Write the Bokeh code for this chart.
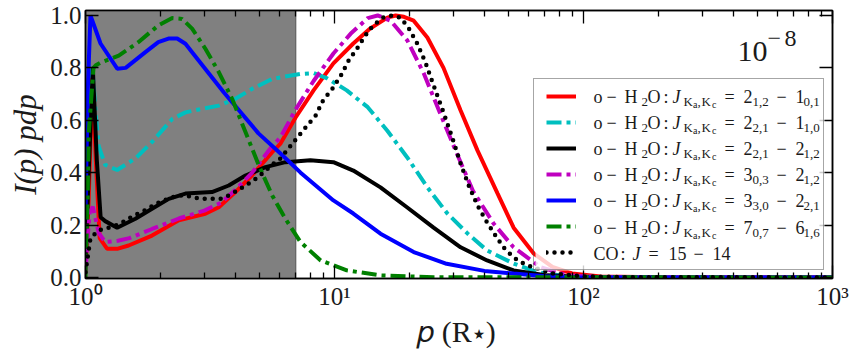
from bokeh.plotting import figure
from bokeh.models import (Range1d, LogAxis, LinearAxis, FixedTicker, BoxAnnotation,
                          Legend, LegendItem, LabelSet, ColumnDataSource, PrintfTickFormatter)
from bokeh.core.properties import value, field
from bokeh.embed import file_html
from bokeh.resources import INLINE

# ---------------- data ----------------
red_p = [1.0, 1.03, 1.065, 1.10, 1.14, 1.22, 1.35, 1.49, 1.85, 2.37, 3.03, 3.43, 4.0, 4.67,
         5.62, 6.07, 6.56, 6.97, 8.24, 9.9, 11.9, 13.9, 16.3, 17.6, 19.0, 20.8, 23.6, 27.4,
         32.1, 37.5, 45.2, 52.4, 63.0, 75.0, 90.0, 117.0, 200.0, 400.0, 1000.0]
red_i = [0.02, 0.30, 0.76, 0.45, 0.15, 0.11, 0.11, 0.122, 0.16, 0.218, 0.243, 0.268, 0.326, 0.39,
         0.478, 0.511, 0.567, 0.61, 0.714, 0.817, 0.893, 0.95, 0.992, 1.0, 0.995, 0.98, 0.916, 0.80,
         0.637, 0.485, 0.32, 0.19, 0.092, 0.04, 0.015, 0.004, 0.0005, 0.0, 0.0]

cyan_p = [1.0, 1.02, 1.04, 1.07, 1.10, 1.13, 1.20, 1.34, 1.59, 1.85, 2.23, 2.52, 2.94, 3.43,
          4.0, 4.67, 5.62, 7.3, 8.24, 9.35, 11.2, 13.6, 16.3, 19.6, 23.6, 28.4, 34.2, 41.0,
          52.4, 65.0, 85.0, 120.0, 1000.0]
cyan_i = [0.10, 0.50, 0.80, 0.78, 0.62, 0.50, 0.43, 0.41, 0.455, 0.517, 0.605, 0.63, 0.644, 0.656,
          0.682, 0.72, 0.758, 0.777, 0.78, 0.76, 0.714, 0.65, 0.56, 0.458, 0.344, 0.244, 0.168, 0.103,
          0.053, 0.02, 0.005, 0.001, 0.0]

black_p = [1.0, 1.03, 1.07, 1.11, 1.15, 1.20, 1.34, 1.587, 1.85, 2.16, 2.52, 3.22, 3.76, 4.39,
           5.28, 6.35, 8.0, 9.9, 11.9, 15.3, 19.6, 25.0, 32.1, 41.0, 52.4, 71.5, 100.0, 200.0, 1000.0]
black_i = [0.05, 0.40, 0.80, 0.45, 0.23, 0.215, 0.19, 0.224, 0.262, 0.30, 0.32, 0.326, 0.351, 0.389,
           0.421, 0.44, 0.447, 0.44, 0.408, 0.344, 0.267, 0.19, 0.115, 0.065, 0.027, 0.008, 0.002, 0.0, 0.0]

mag_p = [1.0, 1.02, 1.04, 1.07, 1.13, 1.20, 1.35, 1.5, 1.85, 2.37, 3.0, 3.5, 4.0, 4.67, 5.6,
         6.07, 6.97, 8.24, 9.9, 11.6, 13.6, 14.9, 16.8, 19.6, 22.8, 26.6, 31.0, 36.0, 43.6,
         52.4, 67.0, 86.0, 120.0, 1000.0]
mag_i = [0.02, 0.15, 0.25, 0.27, 0.17, 0.135, 0.14, 0.15, 0.185, 0.225, 0.255, 0.285, 0.335, 0.40, 0.50,
         0.535, 0.64, 0.75, 0.855, 0.93, 0.99, 1.0, 0.98, 0.905, 0.78, 0.625, 0.473, 0.33, 0.205,
         0.115, 0.04, 0.008, 0.001, 0.0]

blue_p = [1.0, 1.02, 1.047, 1.149, 1.341, 1.45, 1.74, 1.96, 2.154, 2.334, 2.52, 2.68, 3.59, 4.95,
          6.07, 7.31, 9.9, 11.9, 15.3, 20.8, 28.2, 40.0, 52.4, 70.0, 91.0, 200.0, 1000.0]
blue_i = [0.25, 0.70, 1.0, 0.893, 0.797, 0.80, 0.86, 0.898, 0.912, 0.912, 0.892, 0.86, 0.707, 0.55,
          0.473, 0.40, 0.294, 0.244, 0.167, 0.097, 0.052, 0.025, 0.015, 0.005, 0.001, 0.0, 0.0]

green_p = [1.0, 1.02, 1.03, 1.077, 1.10, 1.149, 1.36, 1.63, 1.96, 2.23, 2.44, 2.68, 3.03, 3.43,
           3.88, 4.39, 4.97, 5.62, 6.35, 7.3, 8.8, 11.2, 15.3, 25.0, 1000.0]
green_i = [0.0, 0.30, 0.55, 0.80, 0.81, 0.82, 0.847, 0.898, 0.962, 0.99, 0.987, 0.95, 0.873, 0.784,
           0.682, 0.555, 0.427, 0.313, 0.224, 0.135, 0.065, 0.027, 0.008, 0.001, 0.0]

co_p = [1.0, 1.047, 1.13, 1.24, 1.34, 1.45, 1.56, 1.69, 1.82, 2.0, 2.15, 2.34, 2.52, 2.7, 2.95,
        3.2, 3.48, 3.76, 4.07, 4.39, 4.73, 5.13, 5.62, 6.07, 6.53, 7.1, 7.66, 8.4, 9.0, 9.8,
        10.6, 11.4, 12.4, 13.3, 14.3, 15.7, 17.1, 18.4, 19.8, 21.5, 23.2, 25.0, 27.4, 29.7,
        32.1, 34.6, 37.5, 41.0, 44.3, 47.7, 52.4, 57.5, 63.0, 75.0, 100.0, 150.0, 1000.0]
co_i = [0.02, 0.15, 0.18, 0.19, 0.20, 0.217, 0.236, 0.25, 0.268, 0.29, 0.30, 0.313, 0.313, 0.306, 0.30,
        0.30, 0.30, 0.313, 0.332, 0.351, 0.37, 0.397, 0.43, 0.454, 0.492, 0.535, 0.573, 0.618, 0.676, 0.72,
        0.77, 0.828, 0.878, 0.924, 0.962, 0.992, 1.0, 0.992, 0.954, 0.893, 0.82, 0.733, 0.63, 0.534,
        0.435, 0.351, 0.275, 0.21, 0.16, 0.115, 0.076, 0.053, 0.038, 0.015, 0.004, 0.001, 0.0]

# legend transitions  J_{Ka,Kc}: upper - lower
h2o_upper = ["2", "2", "2", "3", "3", "7"]
h2o_upper_sub = ["1,2", "2,1", "2,1", "0,3", "3,0", "0,7"]
h2o_lower = ["1", "1", "2", "2", "2", "6"]
h2o_lower_sub = ["0,1", "1,0", "1,2", "1,2", "2,1", "1,6"]
co_upper, co_lower = "15", "14"

shade_range = [1.0, 7.0]
x_major = [1, 10, 100, 1000]
x_minor = [2, 3, 4, 5, 6, 7, 8, 9, 20, 30, 40, 50, 60, 70, 80, 90,
           200, 300, 400, 500, 600, 700, 800, 900]
x_tick_labels = ["10\u2070", "10\u00b9", "10\u00b2", "10\u00b3"]
y_major = [0.0, 0.2, 0.4, 0.6, 0.8, 1.0]
scale_text = ("10", "\u2212", "8")
x_title = "\U0001D45D (R\u22c6)"
y_title = "I(p) pdp"

# ---------------- figure ----------------
W, H = 849, 350
FL, FR, FT, FB = 85, 832, 10, 278     # frame edges in page pixels
FONT = "Liberation Serif"
TXT = "#1a1a1a"

p = figure(width=W, height=H, x_axis_type="log",
           x_range=Range1d(1, 1000), y_range=Range1d(-0.004, 1.019),
           output_backend="svg", toolbar_location=None,
           min_border_left=FL, min_border_right=W - FR, min_border_top=FT, min_border_bottom=H - FB)
p.grid.visible = False
p.outline_line_color = "black"
p.outline_line_width = 1.5
p.background_fill_color = "white"
p.border_fill_color = "white"

xt = FixedTicker(ticks=x_major, minor_ticks=x_minor)
yt = FixedTicker(ticks=y_major, minor_ticks=[])


def style_axis(ax, show):
    ax.axis_line_color = "black"
    ax.axis_line_width = 1.5
    ax.major_tick_in = 13
    ax.major_tick_out = 0
    ax.minor_tick_in = 6
    ax.minor_tick_out = 0
    ax.major_tick_line_color = "black"
    ax.major_tick_line_width = 1.3
    ax.minor_tick_line_color = "black"
    ax.minor_tick_line_width = 1.3
    ax.major_label_text_font = FONT
    ax.major_label_text_color = TXT
    ax.axis_label_text_font = FONT
    ax.axis_label_text_color = TXT
    if show:
        ax.major_label_text_font_size = "25px"
        ax.major_label_standoff = 4
    else:
        ax.major_label_text_font_size = "0px"
        ax.major_label_text_alpha = 0
        ax.major_label_standoff = 0


xa = p.xaxis[0]
xa.ticker = xt
xa.major_label_overrides = {v: s for v, s in zip(x_major, x_tick_labels)}
style_axis(xa, True)
xa.axis_label = x_title
xa.axis_label_text_font_size = "30px"
xa.axis_label_text_font_style = "normal"
xa.axis_label_standoff = 2

ya = p.yaxis[0]
ya.ticker = yt
ya.formatter = PrintfTickFormatter(format="%.1f")
style_axis(ya, True)
ya.axis_label = y_title
ya.axis_label_text_font_size = "31px"
ya.axis_label_text_font_style = "italic"
ya.axis_label_standoff = 4

top = LogAxis(ticker=xt)
style_axis(top, False)
p.add_layout(top, "above")
right = LinearAxis(ticker=yt)
style_axis(right, False)
p.add_layout(right, "right")

p.add_layout(BoxAnnotation(left=shade_range[0], right=shade_range[1], fill_color="#808080",
                           fill_alpha=1.0, line_color="black", line_width=1.5, level="underlay"))

LW = 4
DD = "15 5 4 5"
r_red = p.line(red_p, red_i, line_color="#ff0000", line_width=LW)
r_cyan = p.line(cyan_p, cyan_i, line_color="#00bfbf", line_width=LW, line_dash=DD)
r_black = p.line(black_p, black_i, line_color="black", line_width=LW)
r_mag = p.line(mag_p, mag_i, line_color="#bf00bf", line_width=LW, line_dash=DD)
r_blue = p.line(blue_p, blue_i, line_color="#0000ff", line_width=LW)
r_green = p.line(green_p, green_i, line_color="#008000", line_width=LW, line_dash=DD)
r_co = p.line(co_p, co_i, line_color="black", line_width=4.5, line_dash="0 8", line_cap="round")

# legend: translucent white panel behind, legend itself draws border + samples
LEG_PAD, LEG_GW, LEG_GH, LEG_SP, LEG_LS, LEG_LW, LEG_M = 12, 30, 10, 16, 5, 230, 8
leg_w = 2 * LEG_PAD + LEG_GW + LEG_LS + LEG_LW
leg_h = 2 * LEG_PAD + 7 * LEG_GH + 6 * LEG_SP
fw, fh = FR - FL, FB - FT
p.add_layout(BoxAnnotation(left=fw - LEG_M - leg_w, right=fw - LEG_M, bottom=LEG_M, top=LEG_M + leg_h,
                           left_units="screen", right_units="screen",
                           top_units="screen", bottom_units="screen",
                           fill_color="white", fill_alpha=0.8, line_alpha=0))

renderers = [r_red, r_cyan, r_black, r_mag, r_blue, r_green, r_co]
legend = Legend(items=[LegendItem(label=" ", renderers=[r]) for r in renderers],
                location="bottom_right", margin=LEG_M, padding=LEG_PAD, spacing=LEG_SP,
                glyph_width=LEG_GW, glyph_height=LEG_GH, label_height=LEG_GH, label_width=LEG_LW,
                label_standoff=LEG_LS, label_text_font_size="6px",
                border_line_color="#4d4d4d", border_line_width=1.5,
                background_fill_alpha=0.0)
p.add_layout(legend)

# ---------------- in-frame texts (page pixel positions -> frame screen units) ----------------
cols = dict(x=[], y=[], text=[], size=[], style=[])


def put(px, py, text, size, style="normal"):
    cols["x"].append(px - FL)
    cols["y"].append(FB - py)
    cols["text"].append(text)
    cols["size"].append(f"{size}px")
    cols["style"].append(style)


for k in range(6):
    b = 102 + 26.2 * k
    put(593, b, "o", 18)
    put(606, b, "\u2212", 18)
    put(624, b, "H", 18)
    put(641, b + 3, "2", 13)
    put(647, b, "O", 18)
    put(663, b, ":", 18)
    put(672, b, "J", 18, "italic")
    put(683, b + 3, "K", 13)
    put(692.5, b + 5, "a", 10)
    put(697, b + 3, ",", 13)
    put(701, b + 3, "K", 13)
    put(711.5, b + 5, "c", 10)
    put(724, b, "=", 18)
    put(743, b, h2o_upper[k], 18)
    put(752, b + 3, h2o_upper_sub[k], 13)
    put(776, b, "\u2212", 18)
    put(795, b, h2o_lower[k], 18)
    put(803, b + 3, h2o_lower_sub[k], 13)

b = 102 + 26.2 * 6
put(593, b, "CO", 18)
put(620, b, ":", 18)
put(632, b, "J", 18, "italic")
put(648, b, "=", 18)
put(668, b, co_upper, 18)
put(693, b, "\u2212", 18)
put(712, b, co_lower, 18)

# scale factor at top right
put(737, 60, scale_text[0], 30)
put(767, 45, scale_text[1], 24)
put(784, 45, scale_text[2], 24)

src = ColumnDataSource(cols)
p.add_layout(LabelSet(x="x", y="y", text="text", source=src, x_units="screen", y_units="screen",
                      text_font=value(FONT), text_font_size=field("size"),
                      text_font_style=field("style"), text_align="left",
                      text_baseline="alphabetic", text_color=TXT))

open("out.html", "w").write(file_html(p, INLINE))
